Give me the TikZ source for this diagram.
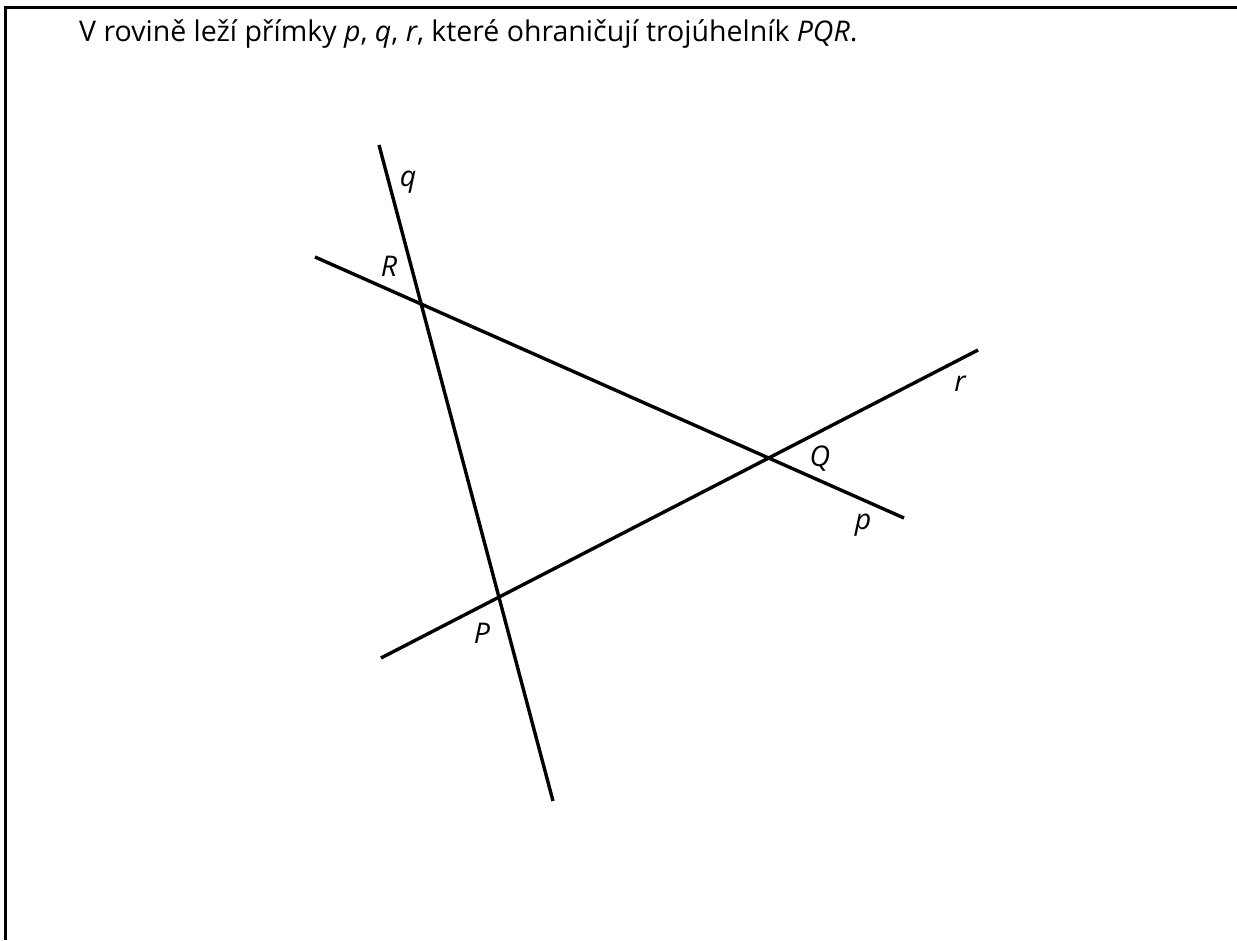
\documentclass[tikz,border=0pt]{standalone}
\usepackage{fontspec}
\setmainfont{Open Sans}
\begin{document}
\begin{tikzpicture}[x=1pt,y=-1pt,
  ln/.style={line width=3.4pt},
  lbl/.style={inner sep=0pt,anchor=base,font=\fontsize{28.5}{32}\selectfont\itshape},
  ttl/.style={inner sep=0pt,anchor=base west,font=\fontsize{28.5}{32}\selectfont}]
\useasboundingbox (0,0) rectangle (1237,940);
\fill[white] (0,0) rectangle (1237,940);
% frame
\coordinate (f1) at (5.5,940);
\coordinate (f2) at (5.5,7.5);
\coordinate (f3) at (1237,7.5);
\draw[line width=3.4pt] (f1) -- (f2) -- (f3);
% title
\node[ttl] (title) at (79,41) {V rovině leží přímky \textit{p}, \textit{q}, \textit{r}, které ohraničují trojúhelník \textit{PQR}.};
% lines
\coordinate (q1) at (379,145);
\coordinate (q2) at (553,801);
\coordinate (p1) at (315,257);
\coordinate (p2) at (904,518);
\coordinate (r1) at (381,658);
\coordinate (r2) at (978,350);
\draw[ln] (q1) -- (q2);
\draw[ln] (p1) -- (p2);
\draw[ln] (r1) -- (r2);
% labels
\node[lbl] (lq) at (408,186) {q};
\node[lbl] (lR) at (389,276) {R};
\node[lbl] (lr) at (960,391) {r};
\node[lbl] (lQ) at (820,466) {Q};
\node[lbl] (lp) at (863,529) {p};
\node[lbl] (lP) at (482,643) {P};
\end{tikzpicture}
\end{document}
